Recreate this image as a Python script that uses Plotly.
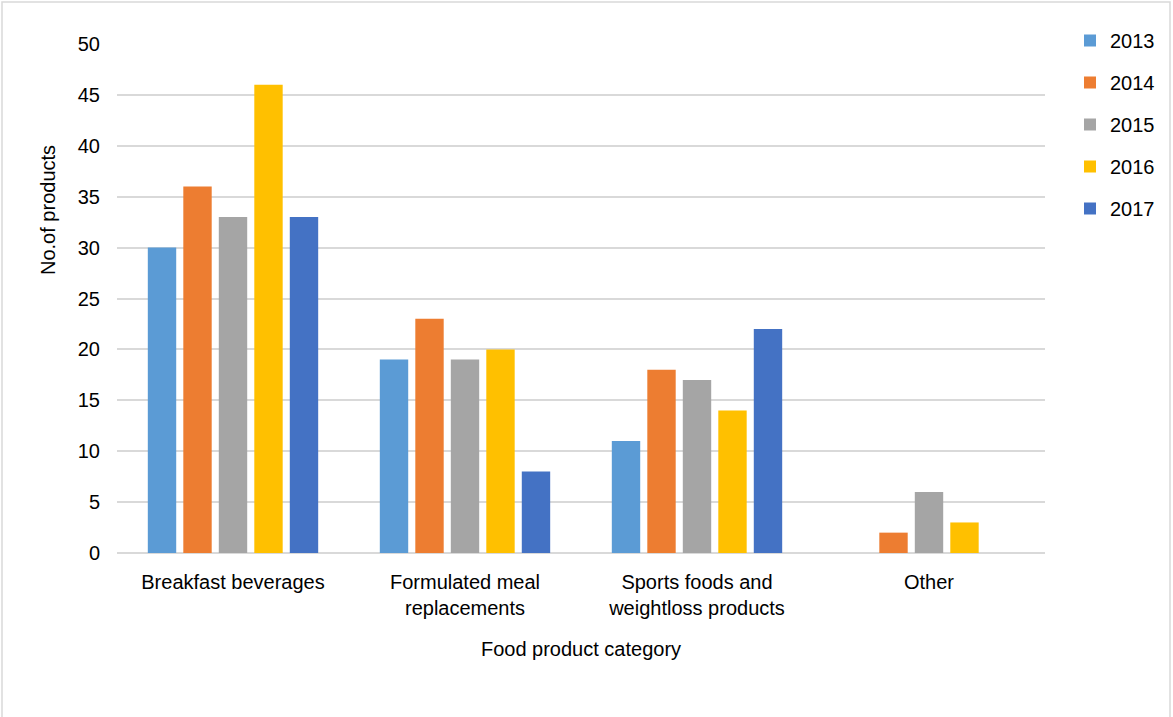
import plotly.graph_objects as go

categories = ["Breakfast beverages", "Formulated meal<br>replacements",
              "Sports foods and<br>weightloss products", "Other"]
years = ["2013", "2014", "2015", "2016", "2017"]
v2013 = [30, 19, 11, None]
v2014 = [36, 23, 18, 2]
v2015 = [33, 19, 17, 6]
v2016 = [46, 20, 14, 3]
v2017 = [33, 8, 22, None]
series = [v2013, v2014, v2015, v2016, v2017]
colors = ["#5B9BD5", "#ED7D31", "#A5A5A5", "#FFC000", "#4472C4"]

FONT = "Liberation Sans, Arial, sans-serif"
FS = 20

fig = go.Figure()
for name, vals, col in zip(years, series, colors):
    fig.add_trace(go.Bar(x=categories, y=vals, name=name, marker_color=col,
                         marker_line_width=0, legendgroup=name))

L, R, T, B = 117, 128, 44, 164
W, H = 1173, 717
pw, ph = W - L - R, H - T - B

fig.update_layout(
    width=W, height=H,
    margin=dict(l=L, r=R, t=T, b=B, autoexpand=False),
    paper_bgcolor="white", plot_bgcolor="white",
    font=dict(family=FONT, size=FS, color="#000000"),
    barmode="group", bargap=0.235, bargroupgap=0.2,
    legend=dict(x=(1070 - L) / pw, y=(T + ph - 21) / ph, xanchor="left",
                yanchor="top", font=dict(size=FS), tracegroupgap=13,
                traceorder="grouped", itemwidth=30),
    xaxis=dict(showgrid=False, showline=False, ticks="",
               ticklabelstandoff=15,
               title=dict(text="Food product category", standoff=23,
                          font=dict(size=FS))),
    yaxis=dict(range=[0, 50], dtick=5, showgrid=True, gridcolor="#D9D9D9",
               gridwidth=1.5, zeroline=True, zerolinecolor="#D9D9D9",
               zerolinewidth=1.5, showline=False, ticks="",
               ticklabelstandoff=16),
    shapes=[dict(type="rect", xref="paper", yref="paper",
                 x0=(2 - L) / pw, x1=(1170 - L) / pw,
                 y0=(T + ph - 722) / ph, y1=(T + ph - 2) / ph,
                 line=dict(color="#D9D9D9", width=1.5), layer="below")],
    annotations=[dict(text="No.of products", xref="paper", yref="paper",
                      x=(48 - L) / pw, y=(T + ph - 210) / ph, textangle=-90,
                      showarrow=False, xanchor="center", yanchor="middle",
                      font=dict(size=FS))],
)

fig.write_html("out.html")
